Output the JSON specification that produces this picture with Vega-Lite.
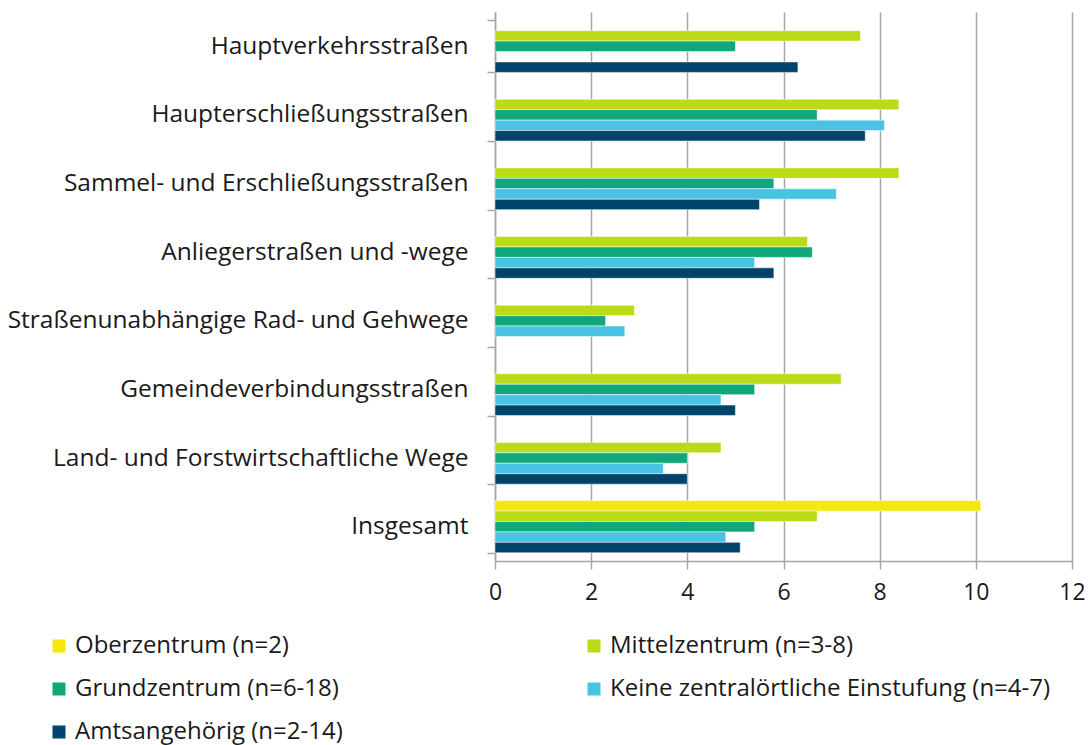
{
  "$schema": "https://vega.github.io/schema/vega-lite/v6.json",
  "autosize": "none",
  "width": 577,
  "height": 549,
  "padding": {"left": 495, "top": 12, "right": 19, "bottom": 184},
  "background": "white",
  "config": {
    "view": {"stroke": null},
    "font": "Open Sans",
    "axis": {"labelFont": "Open Sans", "labelColor": "#1a1a1a"}
  },
  "data": {
    "values": [
      {"cat": "Hauptverkehrsstraßen", "series": "Mittelzentrum (n=3-8)", "value": 7.6},
      {"cat": "Hauptverkehrsstraßen", "series": "Grundzentrum (n=6-18)", "value": 5.0},
      {"cat": "Hauptverkehrsstraßen", "series": "Amtsangehörig (n=2-14)", "value": 6.3},
      {"cat": "Haupterschließungsstraßen", "series": "Mittelzentrum (n=3-8)", "value": 8.4},
      {"cat": "Haupterschließungsstraßen", "series": "Grundzentrum (n=6-18)", "value": 6.7},
      {"cat": "Haupterschließungsstraßen", "series": "Keine zentralörtliche Einstufung (n=4-7)", "value": 8.1},
      {"cat": "Haupterschließungsstraßen", "series": "Amtsangehörig (n=2-14)", "value": 7.7},
      {"cat": "Sammel- und Erschließungsstraßen", "series": "Mittelzentrum (n=3-8)", "value": 8.4},
      {"cat": "Sammel- und Erschließungsstraßen", "series": "Grundzentrum (n=6-18)", "value": 5.8},
      {"cat": "Sammel- und Erschließungsstraßen", "series": "Keine zentralörtliche Einstufung (n=4-7)", "value": 7.1},
      {"cat": "Sammel- und Erschließungsstraßen", "series": "Amtsangehörig (n=2-14)", "value": 5.5},
      {"cat": "Anliegerstraßen und -wege", "series": "Mittelzentrum (n=3-8)", "value": 6.5},
      {"cat": "Anliegerstraßen und -wege", "series": "Grundzentrum (n=6-18)", "value": 6.6},
      {"cat": "Anliegerstraßen und -wege", "series": "Keine zentralörtliche Einstufung (n=4-7)", "value": 5.4},
      {"cat": "Anliegerstraßen und -wege", "series": "Amtsangehörig (n=2-14)", "value": 5.8},
      {"cat": "Straßenunabhängige Rad- und Gehwege", "series": "Mittelzentrum (n=3-8)", "value": 2.9},
      {"cat": "Straßenunabhängige Rad- und Gehwege", "series": "Grundzentrum (n=6-18)", "value": 2.3},
      {"cat": "Straßenunabhängige Rad- und Gehwege", "series": "Keine zentralörtliche Einstufung (n=4-7)", "value": 2.7},
      {"cat": "Gemeindeverbindungsstraßen", "series": "Mittelzentrum (n=3-8)", "value": 7.2},
      {"cat": "Gemeindeverbindungsstraßen", "series": "Grundzentrum (n=6-18)", "value": 5.4},
      {"cat": "Gemeindeverbindungsstraßen", "series": "Keine zentralörtliche Einstufung (n=4-7)", "value": 4.7},
      {"cat": "Gemeindeverbindungsstraßen", "series": "Amtsangehörig (n=2-14)", "value": 5.0},
      {"cat": "Land- und Forstwirtschaftliche Wege ", "series": "Mittelzentrum (n=3-8)", "value": 4.7},
      {"cat": "Land- und Forstwirtschaftliche Wege ", "series": "Grundzentrum (n=6-18)", "value": 4.0},
      {"cat": "Land- und Forstwirtschaftliche Wege ", "series": "Keine zentralörtliche Einstufung (n=4-7)", "value": 3.5},
      {"cat": "Land- und Forstwirtschaftliche Wege ", "series": "Amtsangehörig (n=2-14)", "value": 4.0},
      {"cat": "Insgesamt", "series": "Oberzentrum (n=2)", "value": 10.1},
      {"cat": "Insgesamt", "series": "Mittelzentrum (n=3-8)", "value": 6.7},
      {"cat": "Insgesamt", "series": "Grundzentrum (n=6-18)", "value": 5.4},
      {"cat": "Insgesamt", "series": "Keine zentralörtliche Einstufung (n=4-7)", "value": 4.8},
      {"cat": "Insgesamt", "series": "Amtsangehörig (n=2-14)", "value": 5.1}
    ]
  },
  "mark": {"type": "bar", "stroke": "white", "strokeWidth": 0.5},
  "encoding": {
    "y": {
      "field": "cat",
      "type": "nominal",
      "sort": null,
      "scale": {
        "domain": ["Hauptverkehrsstraßen", "Haupterschließungsstraßen", "Sammel- und Erschließungsstraßen", "Anliegerstraßen und -wege", "Straßenunabhängige Rad- und Gehwege", "Gemeindeverbindungsstraßen", "Land- und Forstwirtschaftliche Wege ", "Insgesamt"],
        "paddingInner": 0.24,
        "paddingOuter": 0.12
      },
      "axis": {
        "title": null,
        "tickBand": "extent",
        "domainColor": "#a6a6a6",
        "domainWidth": 1.5,
        "tickColor": "#a6a6a6",
        "tickWidth": 1.5,
        "tickSize": 8,
        "labelFontSize": 24.5,
        "labelPadding": 19,
        "labelLimit": 600,
        "grid": false
      }
    },
    "yOffset": {
      "field": "series",
      "type": "nominal",
      "scale": {
        "domain": ["Oberzentrum (n=2)", "Mittelzentrum (n=3-8)", "Grundzentrum (n=6-18)", "Keine zentralörtliche Einstufung (n=4-7)", "Amtsangehörig (n=2-14)"],
        "paddingInner": 0,
        "paddingOuter": 0
      }
    },
    "x": {
      "field": "value",
      "type": "quantitative",
      "scale": {"domain": [0, 12], "nice": false},
      "axis": {
        "title": null,
        "values": [0, 2, 4, 6, 8, 10, 12],
        "grid": true,
        "gridColor": "#a6a6a6",
        "gridWidth": 1.5,
        "domainColor": "#a6a6a6",
        "domainWidth": 1.5,
        "tickColor": "#a6a6a6",
        "tickWidth": 1.5,
        "tickSize": 8,
        "labelFontSize": 23,
        "labelPadding": 12,
        "labelFlush": false
      }
    },
    "color": {
      "field": "series",
      "type": "nominal",
      "scale": {
        "domain": ["Oberzentrum (n=2)", "Mittelzentrum (n=3-8)", "Grundzentrum (n=6-18)", "Keine zentralörtliche Einstufung (n=4-7)", "Amtsangehörig (n=2-14)"],
        "range": ["#F5E80A", "#BBDB17", "#10A87A", "#48C3E4", "#00436B"]
      },
      "legend": {
        "title": null,
        "orient": "none",
        "legendX": -448,
        "legendY": 622,
        "direction": "horizontal",
        "columns": 2,
        "columnPadding": 239,
        "rowPadding": 19,
        "symbolType": "square",
        "symbolSize": 169,
        "symbolStrokeWidth": 0,
        "symbolOffset": 0,
        "labelOffset": 4,
        "labelFontSize": 24,
        "labelFont": "Open Sans",
        "labelColor": "#1a1a1a",
        "labelLimit": 600
      }
    }
  }
}
